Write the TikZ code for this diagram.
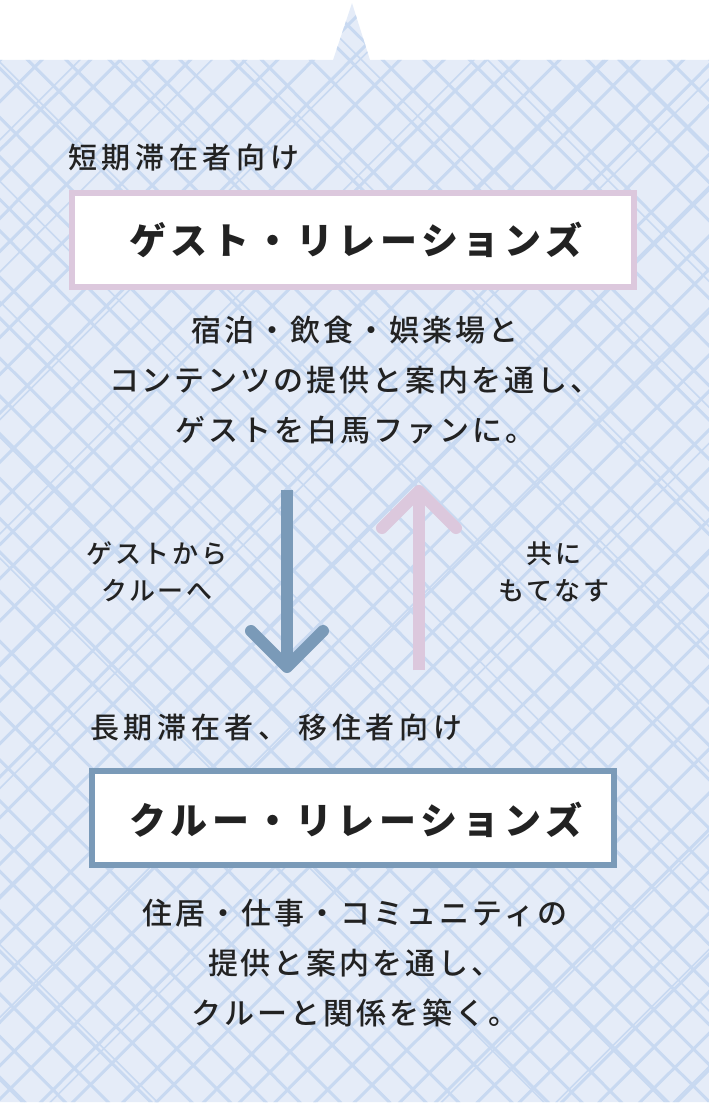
\documentclass[tikz,border=0pt]{standalone}
\usepackage{fontspec}
\newfontfamily\jpA{Noto Sans CJK JP Medium}[LetterSpace=16]
\newfontfamily\jpB{Noto Sans CJK JP Medium}[LetterSpace=10]
\newfontfamily\jpC{Noto Sans CJK JP}[LetterSpace=13]
\definecolor{bgblue}{HTML}{E5ECF8}
\definecolor{hatch}{HTML}{C8D9F1}
\definecolor{ink}{HTML}{222222}
\definecolor{pinkline}{HTML}{DCC8DD}
\definecolor{blueline}{HTML}{7A9AB8}
\tikzset{
  desc/.style={font=\jpB\fontsize{30}{50}\selectfont, text=ink, align=center, inner sep=0pt},
  small/.style={font=\jpB\fontsize{26}{37}\selectfont, text=ink, align=center, inner sep=0pt},
  head/.style={font=\jpA\fontsize{29}{30}\selectfont, text=ink, anchor=west, inner sep=0pt},
  titlebox/.style={draw=#1, line width=6pt, fill=white},
  titletext/.style={font=\jpC\bfseries\fontsize{37}{40}\selectfont, text=ink, inner sep=0pt},
  shaft/.style={draw=#1, line width=12pt, line cap=butt},
  tip/.style={draw=#1, line width=12pt, line cap=round, line join=round},
  hatchline/.style={draw=hatch, line width=3pt},
  hatchthin/.style={draw=hatch, line width=1.6pt},
}
\begin{document}
\begin{tikzpicture}[x=1pt,y=-1pt]
\useasboundingbox (0,0) rectangle (709,1105);
% background with tab
\path[fill=bgblue] (0,60) -- (333,60) -- (352,3) -- (370,60) -- (709,60) -- (709,1102) -- (0,1102) -- cycle;
\begin{scope}
\clip (0,60) -- (333,60) -- (352,3) -- (370,60) -- (709,60) -- (709,1102) -- (0,1102) -- cycle;
\pgfmathsetseed{11}
\foreach \k in {0,...,46}{
  \pgfmathsetmacro\o{-1130+\k*40+12*rnd}
  \pgfmathsetmacro\oo{\o+1105+14*rnd-7}
  \draw[hatchline] (\o,1105) -- (\oo,0);
  \pgfmathsetmacro\p{-1120+\k*40+12*rnd}
  \pgfmathsetmacro\pp{\p+1105+14*rnd-7}
  \draw[hatchline] (\p,0) -- (\pp,1105);
}
\foreach \k in {0,...,14}{
  \pgfmathsetmacro\o{-1100+\k*125+40*rnd}
  \draw[hatchthin] (\o,1105) -- ({\o+1105},0);
  \pgfmathsetmacro\p{-1090+\k*125+40*rnd}
  \draw[hatchthin] (\p,0) -- ({\p+1105},1105);
}
\end{scope}
% top section
\node[head] (lbl1) at (68,158) {短期滞在者向け};
\draw[titlebox=pinkline] (72,193) rectangle (634,287);
\node[titletext] (gr) at (356,240) {ゲスト・リレーションズ};
\node[desc] (d1) at (355,380) {宿泊・飲食・娯楽場と\\コンテンツの提供と案内を通し、\\ゲストを白馬ファンに。};
% arrows
\coordinate (a1s) at (287,490);
\coordinate (a1e) at (287,667);
\coordinate (a1l) at (251,631);
\coordinate (a1r) at (323,631);
\draw[shaft=blueline] (a1s) -- (a1e);
\draw[tip=blueline] (a1l) -- (a1e) -- (a1r);
\coordinate (a2s) at (419,670);
\coordinate (a2e) at (419,491);
\coordinate (a2l) at (382,528);
\coordinate (a2r) at (456,528);
\draw[shaft=pinkline] (a2s) -- (a2e);
\draw[tip=pinkline] (a2l) -- (a2e) -- (a2r);
\node[small] (l1) at (157,572) {ゲストから\\クルーへ};
\node[small] (l2) at (554,572) {共に\\もてなす};
% bottom section
\node[head] (lbl2) at (90,728) {長期滞在者、 移住者向け};
\draw[titlebox=blueline] (92,771) rectangle (614,865);
\node[titletext] (cr) at (356,820) {クルー・リレーションズ};
\node[desc] (d2) at (355,963) {住居・仕事・コミュニティの\\提供と案内を通し、\\クルーと関係を築く。};
\end{tikzpicture}
\end{document}
